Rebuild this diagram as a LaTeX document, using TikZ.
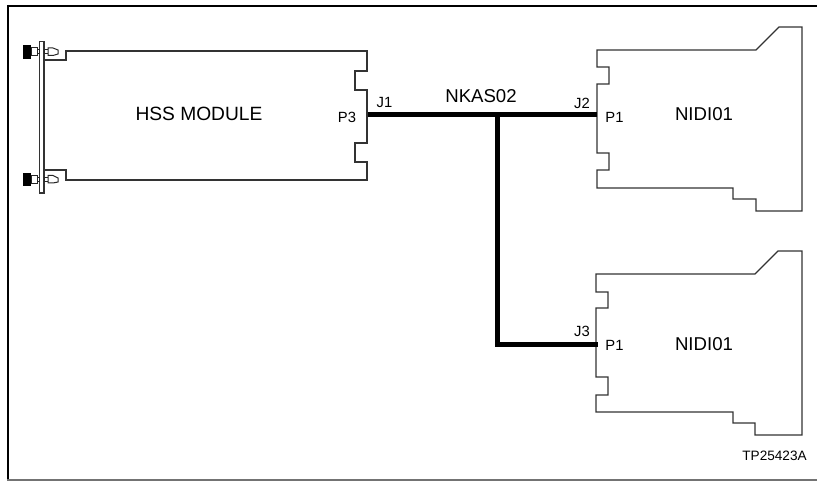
\documentclass[tikz,border=0pt]{standalone}
\usepackage{fontspec}
\setmainfont{Liberation Sans}
\tikzset{
  outline/.style={draw=black!80,line width=1.3pt,line join=miter},
  cable/.style={draw=black,line width=5pt},
  frameline/.style={draw=black,line cap=butt},
  part/.style={draw=black!85,line width=1pt,fill=white},
  hsstext/.style={font=\fontsize{19.2}{21}\selectfont,inner sep=0pt},
  big/.style={font=\fontsize{18.6}{20}\selectfont,inner sep=0pt},
  small/.style={font=\fontsize{14.8}{16}\selectfont,inner sep=0pt},
  tiny/.style={font=\fontsize{13.6}{15}\selectfont,inner sep=0pt},
}
\begin{document}
\begin{tikzpicture}[x=1pt,y=-1pt]
\useasboundingbox (0,0) rectangle (817,481);
% frame
\draw[frameline,line width=2.3pt] (8,4.8) -- (8,480.6);
\draw[frameline,line width=1.6pt] (7,5.8) -- (817,5.8);
\draw[frameline,draw=black!55,line width=1.4pt] (7,479.8) -- (817,479.8);
% HSS module
\draw[outline] (44,60) -- (66,60) -- (66,51) -- (367,51) -- (367,71) -- (355,71) -- (355,90) -- (367,90)
  -- (367,143) -- (355,143) -- (355,162) -- (367,162) -- (367,180) -- (66,180) -- (66,170) -- (44,170);
\draw[outline] (39.5,41.5) rectangle (44,193);
% upper fastener
\fill[black] (23,45.5) rectangle (31,59);
\draw[part] (31,47.5) rectangle (37,56);
\draw[part] (37,49.5) rectangle (39.5,54);
\draw[part] (44,49.5) rectangle (48,54);
\draw[part] (48,48) -- (53,48) -- (58,50) -- (58,54) -- (53,55.5) -- (48,55.5) -- cycle;
% lower fastener
\fill[black] (23,173) rectangle (31,186);
\draw[part] (31,175.5) rectangle (37,183.5);
\draw[part] (37,177.5) rectangle (39.5,182);
\draw[part] (44,177.5) rectangle (48,182);
\draw[part] (48,175.5) -- (53,175.5) -- (58,178) -- (58,182) -- (53,183) -- (48,183) -- cycle;
% NIDI modules
\draw[outline] (597,50) -- (756,50) -- (779,27) -- (802,27) -- (802,211) -- (756,211) -- (756,199) -- (733,199)
  -- (733,188) -- (597,188) -- (597,170) -- (609,170) -- (609,153) -- (597,153) -- (597,84) -- (609,84)
  -- (609,67) -- (597,67) -- cycle;
\draw[outline] (596,274) -- (755,274) -- (778,251) -- (802,251) -- (802,435) -- (755,435) -- (755,423) -- (733,423)
  -- (733,412) -- (596,412) -- (596,395) -- (608,395) -- (608,377) -- (596,377) -- (596,308) -- (608,308)
  -- (608,292) -- (596,292) -- cycle;
% cable
\coordinate (j1) at (368,115);
\coordinate (j2) at (596.5,115);
\coordinate (tee) at (497.5,115);
\coordinate (bend) at (497.5,344);
\coordinate (j3) at (598,344);
\draw[cable] (j1) -- (j2);
\draw[cable,line join=miter] (tee) -- (bend) -- (j3);
% labels
\node[hsstext] (hss) at (199,114) {HSS MODULE};
\node[big] (nkas) at (481,96.5) {NKAS02};
\node[big] (nidia) at (704,114.5) {NIDI01};
\node[big] (nidib) at (704,344) {NIDI01};
\node[small] (lj1) at (384.5,102.5) {J1};
\node[small] (lp3) at (347,117.5) {P3};
\node[small] (lj2) at (582,103) {J2};
\node[small] (lp1a) at (614.5,117.5) {P1};
\node[small] (lj3) at (582,331) {J3};
\node[small] (lp1b) at (614.5,345) {P1};
\node[tiny] (tp) at (774.5,456) {TP25423A};
\end{tikzpicture}
\end{document}
